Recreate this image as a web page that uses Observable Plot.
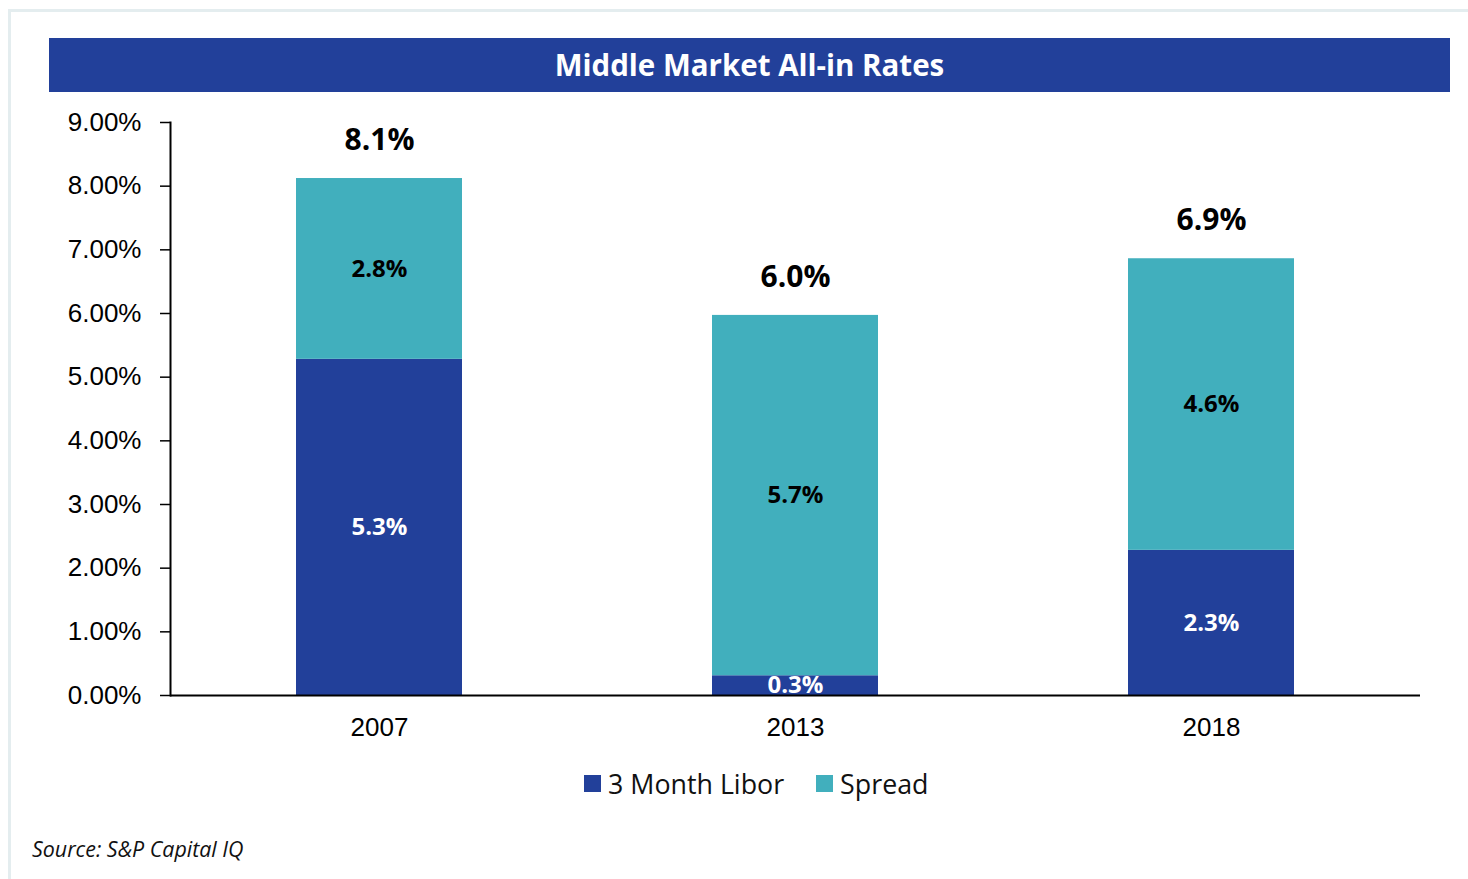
<!DOCTYPE html>
<html>
<head>
<meta charset="utf-8">
<script src="https://cdn.jsdelivr.net/npm/d3@7"></script>
<script src="https://cdn.jsdelivr.net/npm/@observablehq/plot@0.6"></script>
<style>
  html, body { margin: 0; padding: 0; background: #fff; width: 1468px; height: 879px; overflow: hidden; }
  #frame { position: absolute; left: 8px; top: 9px; width: 1470px; height: 880px;
           border-top: 3px solid #e4edef; border-left: 3px solid #e4edef; }
  #title { position: absolute; left: 49px; top: 38px; width: 1401px; height: 52px; padding-bottom: 2px; background: #22409a;
           color: #fff; font: bold 29.5px "Open Sans", sans-serif; display: flex; align-items: center; justify-content: center; }
  #chart { position: absolute; left: 0; top: 100px; }
  #legend { position: absolute; left: 584px; top: 765px; display: flex; align-items: center;
            font: 26.8px "Open Sans", sans-serif; color: #111; }
  #legend .item { display: flex; align-items: center; margin-right: 32px; }
  #legend .sw { width: 17px; height: 17px; margin-right: 7px; }
  #source { position: absolute; left: 32px; top: 834px; font: italic 21.4px "Open Sans", sans-serif; color: #111; }
</style>
</head>
<body>
<div id="frame"></div>
<div id="title"></div>
<div id="chart"></div>
<div id="legend"></div>
<div id="source"></div>
<script>
const titleText = "Middle Market All-in Rates";
const sourceText = "Source: S&P Capital IQ";
const years = ["2007", "2013", "2018"];
const seriesNames = ["3 Month Libor", "Spread"];
const liborValues = [5.28, 0.31, 2.28];
const spreadValues = [2.84, 5.66, 4.58];
const liborLabels = ["5.3%", "0.3%", "2.3%"];
const spreadLabels = ["2.8%", "5.7%", "4.6%"];
const totalValues = [8.12, 5.97, 6.86];
const totalLabels = ["8.1%", "6.0%", "6.9%"];
const yTicks = [0, 1, 2, 3, 4, 5, 6, 7, 8, 9];
const seriesColors = {"3 Month Libor": "#22409a", "Spread": "#41afbd"};
const labelColors = {"3 Month Libor": "#ffffff", "Spread": "#000000"};

const rows = [];
years.forEach((yr, i) => {
  rows.push({year: yr, series: seriesNames[0], value: liborValues[i], label: liborLabels[i]});
  rows.push({year: yr, series: seriesNames[1], value: spreadValues[i], label: spreadLabels[i]});
});

document.getElementById("title").textContent = titleText;
document.getElementById("source").textContent = sourceText;
const legend = document.getElementById("legend");
seriesNames.forEach(s => {
  const it = document.createElement("div"); it.className = "item";
  const sw = document.createElement("div"); sw.className = "sw"; sw.style.background = seriesColors[s];
  const tx = document.createElement("span"); tx.textContent = s;
  it.appendChild(sw); it.appendChild(tx); legend.appendChild(it);
});

const plot = Plot.plot({
  width: 1468,
  height: 660,
  marginLeft: 170,
  marginRight: 48,
  marginTop: 22,
  marginBottom: 65,
  style: {fontFamily: "'Liberation Sans', Arial, sans-serif", fontSize: "26px", color: "#000", background: "transparent"},
  x: {type: "band", domain: years, paddingInner: 0.6, paddingOuter: 0.3, label: null},
  y: {domain: [0, 9], label: null},
  color: {type: "identity"},
  marks: [
    Plot.barY(rows, {x: "year", y: "value", fill: d => seriesColors[d.series], order: seriesNames, z: "series"}),
    Plot.text(rows, Plot.stackY({x: "year", y: "value", z: "series", order: seriesNames, text: "label",
      fill: d => labelColors[d.series], fontFamily: "'Open Sans', sans-serif", fontWeight: "bold", fontSize: 24})),
    Plot.text(years, {x: d => d, y: (d, i) => totalValues[i], text: (d, i) => totalLabels[i], dy: -38,
      fill: "#000", fontFamily: "'Open Sans', sans-serif", fontWeight: "bold", fontSize: 30}),
    Plot.axisY({ticks: yTicks, tickFormat: d => d.toFixed(2) + "%", tickSize: 10, tickPadding: 19,
      fontSize: 26, stroke: "#000", strokeWidth: 1.5, label: null}),
    Plot.axisX({tickSize: 0, tickPadding: 22, fontSize: 26, label: null}),
    Plot.frame({anchor: "left", stroke: "#000", strokeWidth: 2}),
    Plot.ruleY([0], {stroke: "#000", strokeWidth: 2})
  ]
});
document.getElementById("chart").appendChild(plot);
</script>
</body>
</html>
